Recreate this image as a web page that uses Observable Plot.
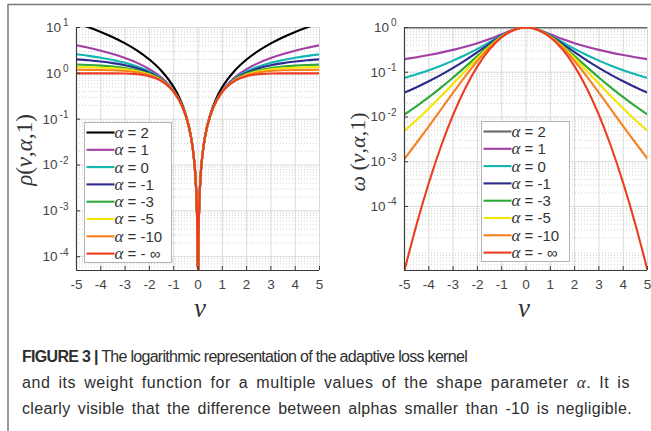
<!DOCTYPE html>
<html>
<head>
<meta charset="utf-8">
<script src="https://cdn.jsdelivr.net/npm/d3@7"></script>
<script src="https://cdn.jsdelivr.net/npm/@observablehq/plot@0.6"></script>
<style>
  html, body { margin: 0; padding: 0; background: #fff; }
  #fig { position: relative; width: 651px; height: 431px; overflow: hidden; background: #fff; }
  #fig > svg, #fig > figure { position: absolute; }
  .cap { position: absolute; left: 22px; font-family: "Liberation Sans", Arial, sans-serif; font-size: 16px; line-height: 20px; color: #2e2e2e; white-space: nowrap; }
</style>
</head>
<body>
<div id="fig"></div>
<script>
// ---------------- data ----------------
const alphaLabels = ["α = 2", "α = 1", "α = 0", "α = -1", "α = -3", "α = -5", "α = -10", "α = - ∞"];
const leftColors  = ["#000000", "#a23fa6", "#0fb6b2", "#2d2a8e", "#2fa83a", "#f4e600", "#f5821f", "#ec3d22"];
const rightColors = ["#666666", "#a23fa6", "#0fb6b2", "#2d2a8e", "#2fa83a", "#f4e600", "#f5821f", "#ec3d22"];

// rho(nu, alpha, 1) at positive nu (curves are symmetric in nu)
const nuRho = [0.01, 0.02, 0.05, 0.1, 0.2, 0.3, 0.5, 0.75, 1, 1.5, 2, 2.5, 3, 3.5, 4, 4.5, 5];
const rhoA2   = [0.00005, 0.0002, 0.00125, 0.005, 0.02, 0.045, 0.125, 0.28125, 0.5, 1.125, 2, 3.125, 4.5, 6.125, 8, 10.125, 12.5];
const rhoA1   = [0.00005, 0.0002, 0.00125, 0.004988, 0.0198, 0.04403, 0.11803, 0.25, 0.41421, 0.80278, 1.23607, 1.69258, 2.16228, 2.64006, 3.12311, 3.60977, 4.09902];
const rhoA0   = [0.00005, 0.0002, 0.00125, 0.004988, 0.0198, 0.04402, 0.11778, 0.24784, 0.40547, 0.75377, 1.09861, 1.41707, 1.70475, 1.96361, 2.19722, 2.40919, 2.60269];
const rhoAm1  = [0.00005, 0.0002, 0.00125, 0.004988, 0.0198, 0.04401, 0.11769, 0.24701, 0.40192, 0.73221, 1.03604, 1.29152, 1.5, 1.66940, 1.80792, 1.92237, 2.01802];
const rhoAm3  = [0.00005, 0.0002, 0.00125, 0.004988, 0.0198, 0.04400, 0.11762, 0.24631, 0.39879, 0.71211, 0.97652, 1.17284, 1.31094, 1.40658, 1.47304, 1.51981, 1.55327];
const rhoAm5  = [0.00005, 0.0002, 0.00125, 0.004988, 0.0198, 0.04400, 0.11759, 0.24599, 0.39736, 0.70254, 0.94772, 1.11597, 1.22276, 1.28836, 1.32845, 1.35317, 1.36867];
const rhoAm10 = [0.00005, 0.0002, 0.00125, 0.004988, 0.0198, 0.04400, 0.11756, 0.24565, 0.39579, 0.69183, 0.91523, 1.05251, 1.12688, 1.16439, 1.18265, 1.19144, 1.19569];
const rhoAinf = [0.00005, 0.0002, 0.00125, 0.004988, 0.0198, 0.04400, 0.11750, 0.24516, 0.39347, 0.67535, 0.86467, 0.95606, 0.98889, 0.99781, 0.99966, 0.99996, 1.0];

// omega(nu, alpha, 1) at non-negative nu
const nuW = [0, 0.5, 1, 1.5, 2, 2.5, 3, 3.5, 4, 4.5, 5];
const wA2   = [1, 1, 1, 1, 1, 1, 1, 1, 1, 1, 1];
const wA1   = [1, 0.894427, 0.707107, 0.554700, 0.447214, 0.371391, 0.316228, 0.274721, 0.242536, 0.216930, 0.196116];
const wA0   = [1, 0.888889, 0.666667, 0.470588, 0.333333, 0.242424, 0.181818, 0.140351, 0.111111, 0.089888, 0.074074];
const wAm1  = [1, 0.886864, 0.649519, 0.431959, 0.280566, 0.184701, 0.125, 0.087252, 0.062741, 0.046350, 0.035071];
const wAm3  = [1, 0.885170, 0.633938, 0.394984, 0.230048, 0.131687, 0.076228, 0.045233, 0.027661, 0.017449, 0.011340];
const wAm5  = [1, 0.884424, 0.626654, 0.377006, 0.205580, 0.107178, 0.055389, 0.028995, 0.015553, 0.008592, 0.004896];
const wAm10 = [1, 0.883632, 0.618622, 0.356613, 0.177979, 0.080820, 0.034815, 0.014683, 0.006197, 0.002654, 0.001164];
const wAinf = [1, 0.882497, 0.606531, 0.324652, 0.135335, 0.043937, 0.011109, 0.002187, 0.000335, 0.0000401, 0.00000373];

const xTicks = [-5, -4, -3, -2, -1, 0, 1, 2, 3, 4, 5];
const yTicksLeft = [10, 1, 0.1, 0.01, 0.001, 0.0001];
const yTicksRight = [1, 0.1, 0.01, 0.001, 0.0001];
const yDomainLeft = [5e-5, 10];
const yDomainRight = [3.7e-6, 1];

const captionBold = "FIGURE 3 |";
const captionLines = [
  " The logarithmic representation of the adaptive loss kernel",
  "and its weight function for a multiple values of the shape parameter <i style=\"font-family:'Liberation Serif',serif;font-size:17px\">α</i>. It is",
  "clearly visible that the difference between alphas smaller than -10 is negligible."
];

// ---------------- build tables ----------------
function mirrored(nu, vals, label) {
  const out = [];
  for (let i = nu.length - 1; i >= 0; i--) out.push({x: -nu[i], y: vals[i], a: label});
  for (let i = 0; i < nu.length; i++) if (nu[i] !== 0) out.push({x: nu[i], y: vals[i], a: label});
  return out;
}
const rhoSeries = [rhoA2, rhoA1, rhoA0, rhoAm1, rhoAm3, rhoAm5, rhoAm10, rhoAinf];
const wSeries = [wA2, wA1, wA0, wAm1, wAm3, wAm5, wAm10, wAinf];
const rhoData = rhoSeries.flatMap((v, i) => mirrored(nuRho, v, alphaLabels[i]));
const wData = wSeries.flatMap((v, i) => mirrored(nuW, v, alphaLabels[i]));

function minorTicks(domain) {
  const t = [];
  for (let e = -7; e <= 2; e++) for (let m = 2; m <= 9; m++) {
    const v = m * Math.pow(10, e);
    if (v > domain[0] && v < domain[1]) t.push(v);
  }
  return t;
}
const supFmt = d => "10^" + Math.round(Math.log10(d));

function panel({data, colors, yDomain, yTicks, width, marginLeft, marginRight}) {
  return Plot.plot({
    width, height: 320,
    marginLeft, marginRight, marginTop: 27, marginBottom: 50,
    style: {fontFamily: "'Liberation Sans', Arial, sans-serif", fontSize: "13.5px", color: "#454545", background: "transparent", overflow: "visible"},
    x: {domain: [-5, 5], label: null},
    y: {type: "log", domain: yDomain, label: null},
    color: {domain: alphaLabels, range: colors},
    marks: [
      Plot.gridY(minorTicks(yDomain), {stroke: "#c4c4c4", strokeOpacity: 1, strokeDasharray: "1,2", strokeWidth: 0.8}),
      Plot.gridY(yTicks, {stroke: "#d9d9d9", strokeOpacity: 1}),
      Plot.gridX(xTicks, {stroke: "#d9d9d9", strokeOpacity: 1}),
      Plot.line(data, {x: "x", y: "y", z: "a", stroke: "a", strokeWidth: 2.1, curve: "monotone-x", clip: true}),
      Plot.ruleX([-5], {stroke: "#3a3a3a", strokeWidth: 1.2}),
      Plot.ruleY([yDomain[0]], {stroke: "#3a3a3a", strokeWidth: 1.2}),
      Plot.axisX(xTicks, {tickSize: -4, tickPadding: 13, stroke: "#3a3a3a", tickFormat: d => String(d)}),
      Plot.axisY(yTicks, {tickSize: -4, tickPadding: 12, stroke: "#3a3a3a", tickFormat: supFmt})
    ]
  });
}

const fig = document.getElementById("fig");
const left = panel({data: rhoData, colors: leftColors, yDomain: yDomainLeft, yTicks: yTicksLeft, width: 325, marginLeft: 76, marginRight: 6});
const right = panel({data: wData, colors: rightColors, yDomain: yDomainRight, yTicks: yTicksRight, width: 326, marginLeft: 79, marginRight: 4});
left.style.left = "0px"; left.style.top = "0px";
right.style.left = "325px"; right.style.top = "0px";
fig.appendChild(left); fig.appendChild(right);

// superscript exponents on y tick labels
for (const svg of [left, right]) {
  d3.select(svg).selectAll('g[aria-label="y-axis tick label"] text').each(function() {
    const s = this.textContent;
    const [base, exp] = s.split("^");
    const t = d3.select(this);
    t.text(null);
    t.append("tspan").text(base);
    t.append("tspan").attr("dy", "-0.55em").attr("dx", "2").attr("font-size", "10px").text(exp);
  });
}

// ---------------- overlay: frame, axis titles, legends ----------------
const ov = d3.select(fig).append("svg").attr("width", 651).attr("height", 431)
  .style("left", "0px").style("top", "0px").style("pointer-events", "none");

ov.append("path").attr("d", "M8,431V4.5H651").attr("fill", "none").attr("stroke", "#7a7a7a").attr("stroke-width", 1.5);

const serif = "'Liberation Serif', 'DejaVu Serif', serif";
function mathLabel(g, parts) {
  for (const [txt, it] of parts) g.append("tspan").attr("font-style", it ? "italic" : "normal").text(txt);
}
const yl1 = ov.append("text").attr("transform", "translate(32,150) rotate(-90)").attr("text-anchor", "middle")
  .attr("font-family", serif).attr("font-size", 23).attr("fill", "#333");
mathLabel(yl1, [["ρ", 1], ["(", 0], ["ν", 1], [",", 0], ["α", 1], [",", 0], ["1", 0], [")", 0]]);
const yl2 = ov.append("text").attr("transform", "translate(365,152) rotate(-90)").attr("text-anchor", "middle")
  .attr("font-family", serif).attr("font-size", 22).attr("fill", "#333");
mathLabel(yl2, [["ω", 1], [" (", 0], ["ν", 1], [",", 0], ["α", 1], [",", 0], ["1", 0], [")", 0]]);
for (const cx of [200, 524]) {
  ov.append("text").attr("x", cx).attr("y", 317).attr("text-anchor", "middle")
    .attr("font-family", serif).attr("font-style", "italic").attr("font-size", 27).attr("fill", "#333").text("ν");
}

function legend(x0, y0, w, h, colors) {
  const g = ov.append("g");
  g.append("rect").attr("x", x0).attr("y", y0).attr("width", w).attr("height", h)
    .attr("fill", "#fff").attr("stroke", "#b4b4b4").attr("stroke-width", 1);
  alphaLabels.forEach((lab, i) => {
    const y = y0 + 10 + i * 17.3;
    g.append("line").attr("x1", x0 + 2).attr("x2", x0 + 30).attr("y1", y).attr("y2", y)
      .attr("stroke", colors[i]).attr("stroke-width", 2.1);
    const t = g.append("text").attr("x", x0 + 30).attr("y", y).attr("dy", "0.36em")
      .attr("font-family", "'Liberation Sans', Arial, sans-serif").attr("font-size", 15).attr("fill", "#333");
    t.append("tspan").attr("font-family", serif).attr("font-style", "italic").attr("font-size", 17).text("α");
    t.append("tspan").text(lab.slice(1));
  });
}
legend(84.5, 122.5, 87, 140, leftColors);
legend(481.5, 121.5, 88, 140, rightColors);

// ---------------- caption ----------------
const tops = [347, 373, 399];
const rightEdges = [467, 630, 632];
const capDivs = captionLines.map((line, i) => {
  const d = document.createElement("div");
  d.className = "cap";
  d.style.top = tops[i] + "px";
  d.innerHTML = (i === 0 ? "<b>" + captionBold + "</b>" : "") + line;
  fig.appendChild(d);
  return d;
});
capDivs.forEach((d, i) => {
  const w = d.getBoundingClientRect().width;
  const extra = rightEdges[i] - 22 - w;
  const n = d.textContent.length;
  if (extra < 0) {
    d.style.letterSpacing = (extra / n) + "px";
  } else {
    const spaces = (d.textContent.match(/ /g) || []).length;
    const ls = (extra * 0.5) / n;
    d.style.letterSpacing = ls + "px";
    const w2 = d.getBoundingClientRect().width;
    d.style.wordSpacing = ((rightEdges[i] - 22 - w2) / spaces) + "px";
  }
});
</script>
</body>
</html>
